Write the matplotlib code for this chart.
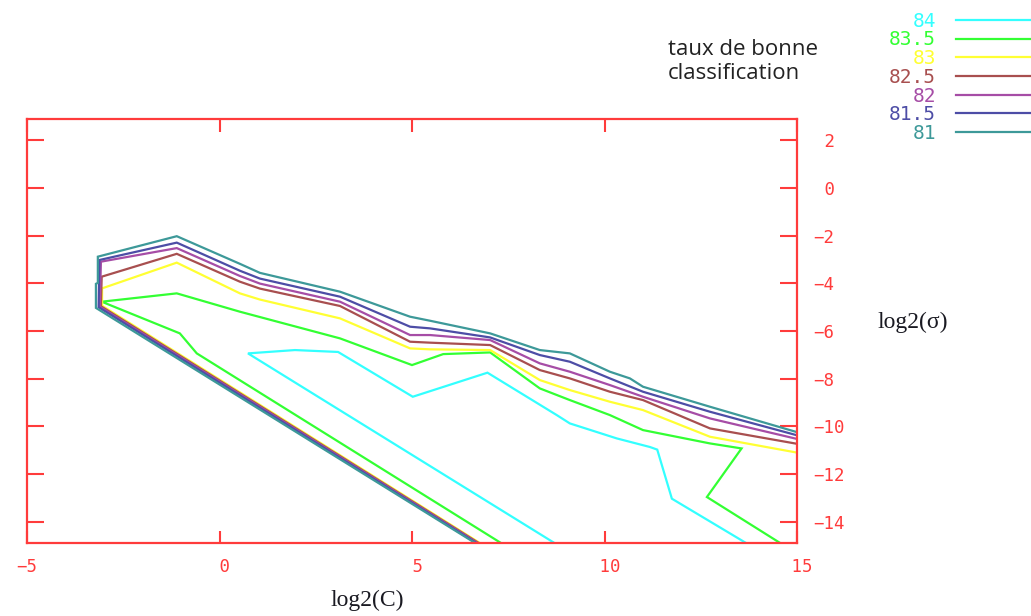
import matplotlib
matplotlib.use("Agg")
import matplotlib.pyplot as plt

# Iso-accuracy contours of the SVM grid search (log2 C vs log2 sigma)
levels = ["84", "83.5", "83", "82.5", "82", "81.5", "81"]
colors = ["#33ffff", "#33ff33", "#ffff33", "#a84f4f", "#a64da6", "#4d4da6", "#3d9999"]

c84_logC = [8.80, 0.74, 1.96, 3.08, 5.02, 6.96, 8.76, 9.10, 10.32, 11.18, 11.37, 11.75, 13.78]
c84_logS = [-15.0, -6.94, -6.80, -6.88, -8.76, -7.75, -9.53, -9.88, -10.51, -10.87, -10.98, -13.04, -15.0]

c835_logC = [7.41, -0.59, -1.03, -3.06, -1.11, 0.53, 3.13, 5.00, 5.81, 7.03, 8.32, 9.10,
             10.14, 11.00, 12.74, 13.56, 12.66, 14.66]
c835_logS = [-15.0, -6.94, -6.10, -4.77, -4.42, -5.19, -6.31, -7.43, -6.97, -6.90, -8.41, -8.90,
             -9.53, -10.16, -10.72, -10.93, -12.97, -15.0]

c83_logC = [6.86, -3.05, -3.05, -1.11, 0.53, 1.05, 3.13, 4.95, 5.47, 7.03, 8.32, 9.10, 10.14, 11.00, 12.74, 15.05]
c83_logS = [-15.0, -4.94, -4.21, -3.13, -4.42, -4.68, -5.47, -6.73, -6.77, -6.80, -8.06, -8.48, -8.97, -9.32, -10.44, -11.12]

c825_logC = [6.83, -3.08, -3.06, -1.11, 0.53, 1.05, 3.13, 4.95, 5.47, 7.03, 8.32, 9.10, 10.14, 11.00, 12.74, 15.05]
c825_logS = [-15.0, -4.96, -3.72, -2.76, -3.93, -4.22, -4.95, -6.45, -6.49, -6.59, -7.64, -7.99, -8.55, -8.90, -10.09, -10.75]

c82_logC = [6.80, -3.11, -3.08, -1.11, 0.53, 1.05, 3.13, 4.95, 5.47, 7.03, 8.32, 9.10, 10.14, 11.00, 12.74, 15.05]
c82_logS = [-15.0, -4.98, -3.09, -2.52, -3.69, -4.01, -4.77, -6.17, -6.17, -6.38, -7.36, -7.71, -8.27, -8.76, -9.67, -10.55]

c815_logC = [6.77, -3.14, -3.12, -1.11, 0.53, 1.05, 3.13, 4.95, 5.47, 7.03, 8.32, 9.10, 10.14, 11.00, 12.74, 15.05]
c815_logS = [-15.0, -5.00, -3.02, -2.29, -3.47, -3.80, -4.56, -5.82, -5.89, -6.27, -7.01, -7.29, -7.99, -8.55, -9.39, -10.40]

c81_logC = [6.74, -3.21, -3.21, -3.16, -3.16, -1.11, 0.53, 1.05, 3.13, 4.95, 5.47, 7.03, 8.32, 9.10,
            10.14, 10.66, 11.00, 12.74, 15.05]
c81_logS = [-15.0, -5.03, -4.02, -3.98, -2.88, -2.02, -3.18, -3.56, -4.35, -5.40, -5.57, -6.10, -6.80, -6.94,
            -7.71, -7.99, -8.34, -9.18, -10.27]

xticks = [-5, 0, 5, 10, 15]
xtick_labels = ["\u22125", " 0", " 5", " 10", " 15"]
yticks = [2, 0, -2, -4, -6, -8, -10, -12, -14]
ytick_labels = [" 2", " 0", "\u22122", "\u22124", "\u22126", "\u22128", "\u221210", "\u221212", "\u221214"]

curves = [
    (c84_logC, c84_logS),
    (c835_logC, c835_logS),
    (c83_logC, c83_logS),
    (c825_logC, c825_logS),
    (c82_logC, c82_logS),
    (c815_logC, c815_logS),
    (c81_logC, c81_logS),
]

RED = "#ff3b3b"
MONO = "DejaVu Sans Mono"

fig = plt.figure(figsize=(10.31, 6.16), dpi=100)
ax = fig.add_axes([27 / 1031, 73 / 616, 770 / 1031, 424 / 616])

handles = []
for (cx, cy), lab, col in zip(curves, levels, colors):
    (ln,) = ax.plot(cx, cy, color=col, lw=1.6, label=lab, solid_joinstyle="miter")
    handles.append(ln)

ax.set_xlim(-5, 15)
ax.set_ylim(-14.9, 2.9)

for sp in ax.spines.values():
    sp.set_color(RED)
    sp.set_linewidth(1.6)

ax.set_xticks(xticks, labels=xtick_labels)
ax.set_yticks(yticks, labels=ytick_labels)
ax.tick_params(axis="x", direction="in", top=True, bottom=True, length=9, width=1.5,
               color=RED, labelcolor=RED, pad=11, labelsize=12.5)
ax.tick_params(axis="y", direction="in", left=True, right=True, labelleft=False, labelright=True,
               length=12, width=1.5, color=RED, labelcolor=RED, pad=12, labelsize=12.5)
for t in ax.get_xticklabels() + ax.get_yticklabels():
    t.set_fontfamily(MONO)

leg = ax.legend(handles=handles, labels=levels, loc="upper right",
                bbox_to_anchor=(1.0136, 0.981), bbox_transform=fig.transFigure,
                frameon=False, markerfirst=False, handlelength=4.6, handletextpad=1.0,
                labelspacing=-0.015, borderpad=0, borderaxespad=0,
                prop={"family": MONO, "size": 14})
for txt, ln in zip(leg.get_texts(), leg.get_lines()):
    txt.set_color(ln.get_color())

fig.text(668 / 1031, 1 - 39 / 616, "taux de bonne\nclassification", ha="left", va="top",
         fontsize=16, family="Open Sans", color="#222222", linespacing=1.2)
fig.text(877 / 1031, 1 - 322 / 616, "log2(\u03c3)", ha="left", va="center",
         fontsize=17, family="Liberation Serif", color="#1a1a22")
fig.text(330 / 1031, 1 - 600 / 616, "log2(C)", ha="left", va="center",
         fontsize=17, family="Liberation Serif", color="#1a1a22")

fig.savefig("out.png", dpi=100)
